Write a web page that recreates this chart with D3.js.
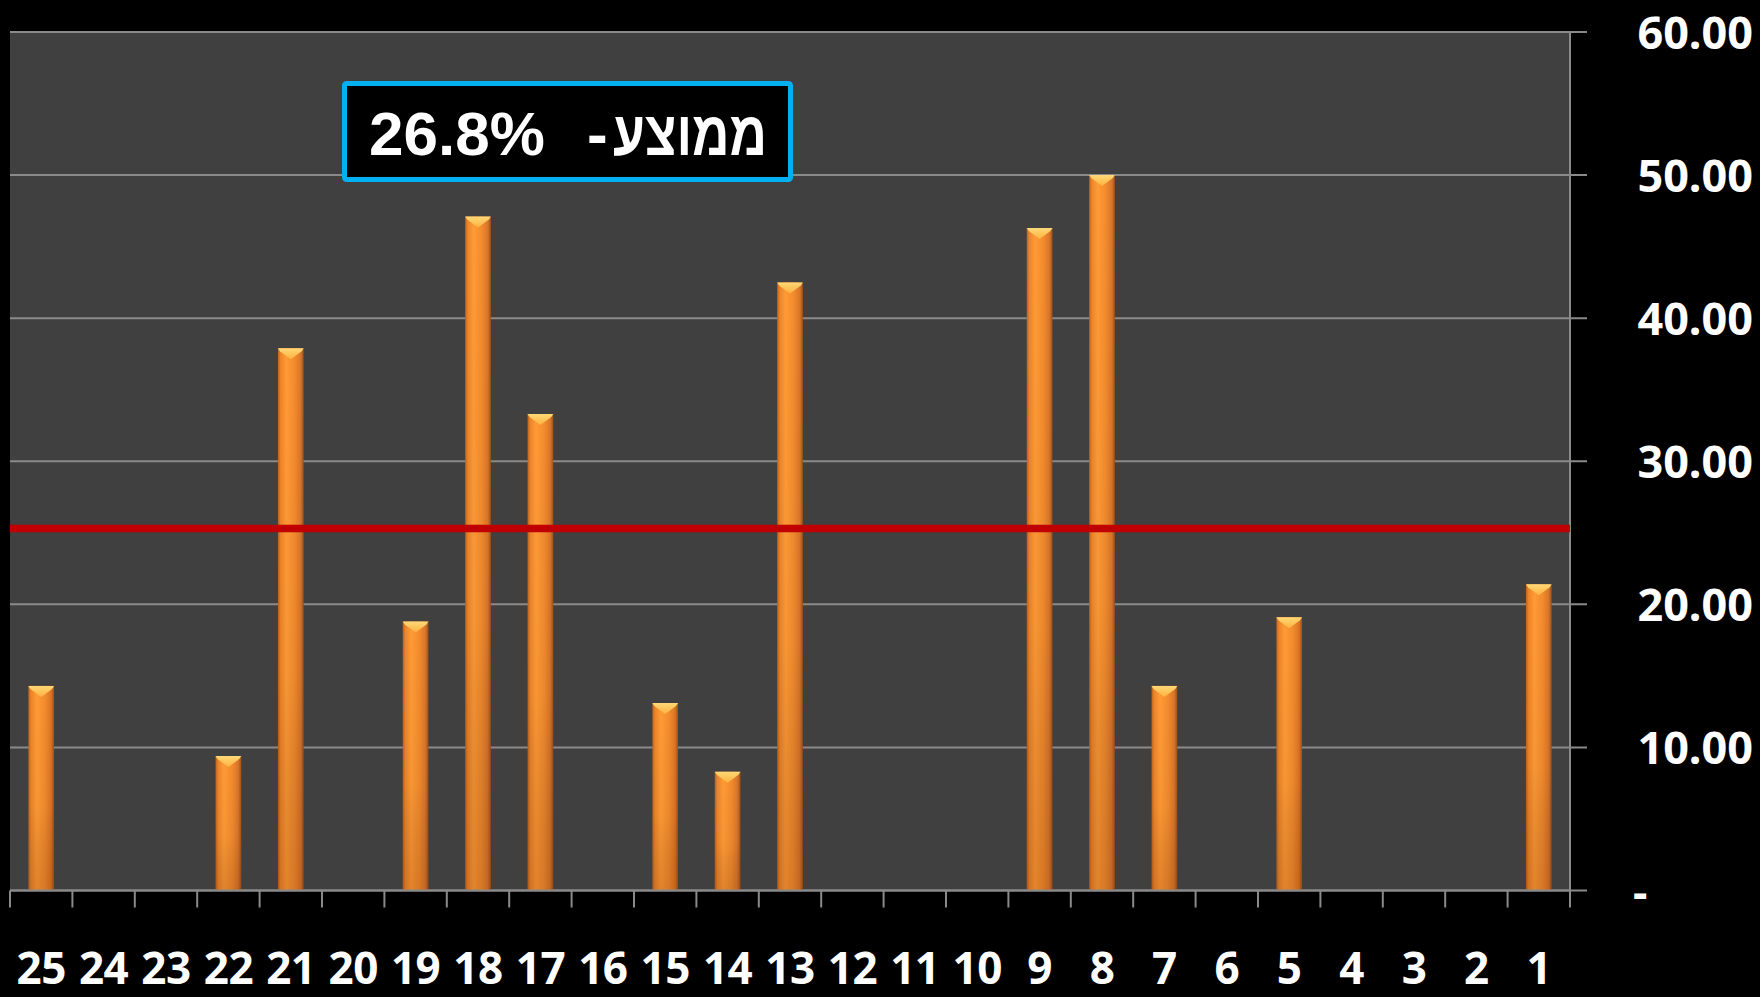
<!DOCTYPE html>
<html><head><meta charset="utf-8">
<script src="https://cdn.jsdelivr.net/npm/d3@7"></script>
<style>
html,body{margin:0;padding:0;background:#000;}
svg{display:block;}
</style></head>
<body>
<svg id="chart" width="1760" height="997"></svg>
<script>
const categories = ["25","24","23","22","21","20","19","18","17","16","15","14","13","12","11","10","9","8","7","6","5","4","3","2","1"];
const values = [14.3,0,0,9.4,37.9,0,18.8,47.1,33.3,0,13.1,8.3,42.5,0,0,0,46.3,50.0,14.3,0,19.1,0,0,0,21.4];
const yTicks = [0,10,20,30,40,50,60];
const averageLine = 25.3;
const averageValueText = "26.8%";
const averageLabelText = "ממוצע";
const averageDash = "-";

const W = 1760, H = 997;
const plot = {left:10, right:1570, top:32, bottom:890.5};
const svg = d3.select("#chart");
const defs = svg.append("defs");

// gradients for bars
const gh = defs.append("linearGradient").attr("id","barH").attr("x1","0").attr("x2","1").attr("y1","0").attr("y2","0");
[[0,"#B8621F"],[0.1,"#EC8429"],[0.33,"#FF9B36"],[0.65,"#F28B2D"],[0.88,"#DA752A"],[1,"#9A531C"]]
  .forEach(([o,c])=>gh.append("stop").attr("offset",o).attr("stop-color",c));
const gv = defs.append("linearGradient").attr("id","barV").attr("x1","0").attr("x2","0").attr("y1","0").attr("y2","1");
[[0,"rgba(0,0,0,0)"],[0.6,"rgba(0,0,0,0.03)"],[1,"rgba(90,30,0,0.18)"]]
  .forEach(([o,c])=>gv.append("stop").attr("offset",o).attr("stop-color",c));
const gb = defs.append("linearGradient").attr("id","bevel").attr("x1","0").attr("x2","0").attr("y1","0").attr("y2","1");
[[0,"#FFD877"],[1,"#FFB23E"]].forEach(([o,c])=>gb.append("stop").attr("offset",o).attr("stop-color",c));

const x = d3.scaleBand().domain(categories).range([plot.left, plot.right]).paddingInner(0.588).paddingOuter(0.294);
const y = d3.scaleLinear().domain([0,60]).range([plot.bottom, plot.top]);

// plot background
svg.append("rect").attr("x",plot.left).attr("y",plot.top).attr("width",plot.right-plot.left).attr("height",plot.bottom-plot.top).attr("fill","#404040");

// gridlines (extend to right as tick marks)
svg.append("g").selectAll("line").data(yTicks).join("line")
  .attr("x1",plot.left).attr("x2",plot.right+17)
  .attr("y1",d=>y(d)).attr("y2",d=>y(d))
  .attr("stroke","#8A8A8A").attr("stroke-width",2);

// right axis line
svg.append("line").attr("x1",plot.right).attr("x2",plot.right).attr("y1",plot.top).attr("y2",plot.bottom)
  .attr("stroke","#8A8A8A").attr("stroke-width",2);

// bars
const nonZero = categories.map((c,i)=>({c, v:values[i]})).filter(d=>d.v>0);
const bars = svg.append("g");
const bw = x.bandwidth();
bars.selectAll("rect.b").data(nonZero).join("rect").attr("class","b")
  .attr("x",d=>x(d.c)).attr("y",d=>y(d.v)).attr("width",bw).attr("height",d=>y(0)-y(d.v))
  .attr("fill","url(#barH)");
bars.selectAll("rect.s").data(nonZero).join("rect").attr("class","s")
  .attr("x",d=>x(d.c)).attr("y",d=>y(d.v)).attr("width",bw).attr("height",d=>y(0)-y(d.v))
  .attr("fill","url(#barV)");
bars.selectAll("path.bev").data(nonZero).join("path").attr("class","bev")
  .attr("d",d=>{
    const x0=x(d.c), x1=x0+bw, xc=x0+bw/2, t=y(d.v);
    return `M${x0},${t}L${x1},${t}L${x1-2},${t+3}L${xc},${t+11}L${x0+2},${t+3}Z`;
  })
  .attr("fill","url(#bevel)");

// x axis line and ticks
svg.append("line").attr("x1",plot.left).attr("x2",plot.right).attr("y1",plot.bottom).attr("y2",plot.bottom)
  .attr("stroke","#8A8A8A").attr("stroke-width",2);
const tickXs = categories.map(c=>x(c)-x.step()*x.paddingInner()/2).concat([plot.right]);
svg.append("g").selectAll("line").data(tickXs).join("line")
  .attr("x1",d=>d).attr("x2",d=>d).attr("y1",plot.bottom).attr("y2",plot.bottom+17)
  .attr("stroke","#8A8A8A").attr("stroke-width",2);

// x labels
svg.append("g").selectAll("text").data(categories).join("text")
  .attr("x",d=>x(d)+bw/2).attr("y",984)
  .attr("text-anchor","middle")
  .attr("fill","#fff").attr("font-family","'Noto Sans', 'Open Sans', sans-serif")
  .attr("font-weight","bold").attr("font-size",44).attr("letter-spacing",-0.5)
  .text(d=>d);

// y labels
svg.append("g").selectAll("text").data(yTicks).join("text")
  .attr("x",d=>d===0?1633:1753).attr("y",d=>y(d)+17)
  .attr("text-anchor",d=>d===0?"start":"end")
  .attr("fill","#fff").attr("font-family","'Noto Sans', 'Open Sans', sans-serif")
  .attr("font-weight","bold").attr("font-size",45)
  .text(d=>d===0?"-":d3.format(".2f")(d));

// average line
svg.append("line").attr("x1",plot.left).attr("x2",plot.right)
  .attr("y1",y(averageLine)).attr("y2",y(averageLine))
  .attr("stroke","#C00000").attr("stroke-width",7.5);

// average box
svg.append("rect").attr("x",344.5).attr("y",83.5).attr("width",446).attr("height",96).attr("rx",2)
  .attr("fill","#000").attr("stroke","#00B0F0").attr("stroke-width",5);
svg.append("text").attr("x",369).attr("y",155)
  .attr("fill","#fff").attr("font-family","'Liberation Sans', Arial, sans-serif")
  .attr("font-weight","bold").attr("font-size",62)
  .text(averageValueText);
svg.append("text").attr("x",767).attr("y",155).attr("text-anchor","end")
  .attr("fill","#fff").attr("font-family","'Liberation Sans', Arial, 'DejaVu Sans', sans-serif")
  .attr("font-weight","bold").attr("font-size",62)
  .attr("textLength",154).attr("lengthAdjust","spacingAndGlyphs")
  .text(averageLabelText);
svg.append("text").attr("x",587).attr("y",155)
  .attr("fill","#fff").attr("font-family","'Liberation Sans', Arial, sans-serif")
  .attr("font-weight","bold").attr("font-size",62)
  .text(averageDash);
</script>
</body></html>
